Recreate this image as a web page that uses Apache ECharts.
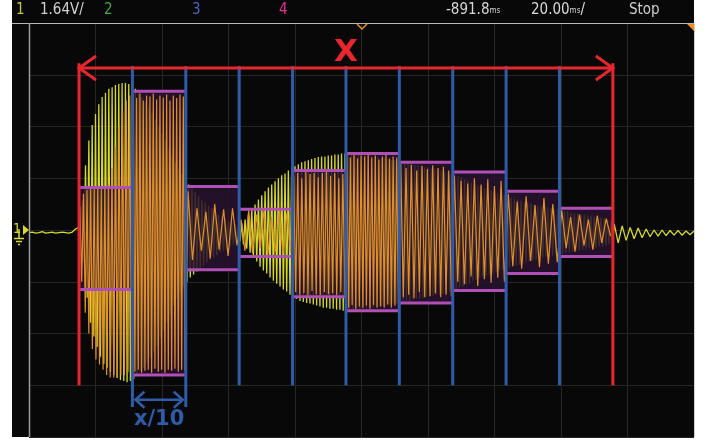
<!DOCTYPE html>
<html><head><meta charset="utf-8">
<script src="https://cdn.jsdelivr.net/npm/echarts@6/dist/echarts.min.js"></script>
<style>html,body{margin:0;padding:0;background:#fff;}#c{width:713px;height:440px;}</style>
</head><body><div id="c"></div>
<script>
// ---------- data (time in ms, 20 ms/div; amplitude in divisions, 1.64 V/div) ----------
const timeRange = [0, 200];
const ampRange = [-4, 4];
const headerTexts = ['1', '1.64V/', '2', '3', '4', '-891.8', '20.00', 'Stop'];

// pre-trigger flat trace, 1 ms step from t = 0
const preValues = [-0.05,-0.04,-0.06,-0.05,-0.03,-0.06,-0.05,-0.04,-0.06,-0.05,-0.04,-0.05,-0.06,-0.04,0.02];
// burst: peak (high) and trough (low) per 1 ms from t = 15
const yellowHigh = [0.05,0.57,1.25,1.73,2.03,2.24,2.43,2.57,2.65,2.73,2.76,2.80,2.82,2.84,2.84,2.82,2.78,2.73,2.65,2.57,
 2.49,2.37,2.26,2.14,2.01,1.87,1.73,1.58,1.44,1.31,1.19,1.08,0.98,0.88,0.80,0.73,0.65,0.59,0.53,0.47,
 0.42,0.36,0.30,0.26,0.22,0.18,0.15,0.11,0.09,0.13,0.20,0.30,0.40,0.49,0.59,0.67,0.75,0.82,0.88,0.94,
 1.00,1.06,1.09,1.15,1.19,1.23,1.27,1.31,1.33,1.35,1.37,1.39,1.41,1.42,1.42,1.44,1.44,1.46,1.46,1.48,
 1.48,1.48,1.48,1.46,1.46,1.44,1.44,1.42,1.42,1.41,1.41,1.39,1.39,1.37,1.35,1.35,1.33,1.31,1.29,1.29,
 1.27,1.25,1.25,1.23,1.21,1.21,1.19,1.17,1.17,1.15,1.13,1.11,1.09,1.08,1.04,1.02,0.98,0.96,0.92,0.90,
 0.86,0.84,0.80,0.78,0.77,0.75,0.71,0.69,0.67,0.65,0.63,0.61,0.59,0.57,0.55,0.53,0.51,0.49,0.47,0.46,
 0.44,0.44,0.42,0.40,0.40,0.38,0.36,0.36,0.34,0.32,0.32,0.30,0.30,0.28,0.28,0.26,0.24,0.24,0.22,0.20,0.18];
const yellowLow = [-0.05,-0.63,-1.31,-1.79,-2.06,-2.26,-2.45,-2.59,-2.66,-2.74,-2.80,-2.86,-2.90,-2.92,-2.94,-2.92,-2.88,-2.82,-2.74,-2.66,
 -2.57,-2.47,-2.35,-2.24,-2.08,-1.95,-1.79,-1.62,-1.46,-1.33,-1.19,-1.09,-1.00,-0.92,-0.86,-0.80,-0.75,-0.69,-0.63,-0.57,
 -0.53,-0.49,-0.44,-0.40,-0.36,-0.32,-0.28,-0.24,-0.22,-0.28,-0.36,-0.44,-0.51,-0.61,-0.71,-0.78,-0.84,-0.92,-0.98,-1.04,
 -1.09,-1.15,-1.19,-1.25,-1.29,-1.33,-1.37,-1.39,-1.41,-1.42,-1.44,-1.46,-1.48,-1.50,-1.50,-1.52,-1.52,-1.54,-1.54,-1.56,
 -1.56,-1.56,-1.56,-1.54,-1.54,-1.52,-1.52,-1.50,-1.50,-1.48,-1.48,-1.46,-1.46,-1.44,-1.42,-1.42,-1.41,-1.39,-1.37,-1.37,
 -1.35,-1.33,-1.33,-1.31,-1.29,-1.29,-1.27,-1.25,-1.25,-1.23,-1.21,-1.19,-1.17,-1.15,-1.11,-1.09,-1.06,-1.04,-0.98,-0.96,
 -0.92,-0.90,-0.88,-0.86,-0.84,-0.82,-0.78,-0.77,-0.75,-0.73,-0.71,-0.69,-0.67,-0.65,-0.63,-0.61,-0.59,-0.57,-0.55,-0.53,
 -0.51,-0.51,-0.49,-0.47,-0.47,-0.46,-0.44,-0.44,-0.42,-0.40,-0.40,-0.38,-0.38,-0.36,-0.36,-0.34,-0.32,-0.32,-0.30,-0.28,-0.26];
// ringing after the burst, 1.2 ms step from t = 176
const ringValues = [0.12,-0.25,0.08,-0.20,0.05,-0.17,0.04,-0.15,0.02,-0.13,0.0,-0.12,0.0,-0.11,-0.01,-0.10,-0.01,-0.10,-0.02,-0.09,-0.02];

// marked interval X (ms) split into 10 windows of X/10
const markStart = 15.05, markEnd = 175.6;
const segTop    = [0.82, 2.68, 0.84, 0.40, 1.15, 1.48, 1.31, 1.12, 0.75, 0.42];
const segBottom = [-1.15,-2.80,-0.77,-0.51,-1.29,-1.56,-1.41,-1.17,-0.84,-0.51];
const segShaded = [1,1,1,0,1,1,1,1,1,1];

// highlighted (orange) trace: alternating peaks per window
const orange1  = [0.45,-1.0,0.7,-1.6,0.78,-2.0,0.8,-2.3,0.8,-2.5,0.82,-2.6,0.8,-2.7,0.85,-2.8,0.9,-2.85,1.2,-2.85,1.6,-2.85,2.0,-2.8,2.3,-2.8,2.5,-2.75,2.6,-2.7];
const orange2  = [2.62,-2.74,2.55,-2.7,2.64,-2.76,2.5,-2.72,2.6,-2.7,2.58,-2.76,2.64,-2.68,2.52,-2.74,2.6,-2.7,2.56,-2.76,2.62,-2.7,2.5,-2.72,2.6,-2.68,2.55,-2.74,2.62,-2.7,2.58,-2.72];
const orange3  = [0.75,-0.58,0.42,-0.4,0.35,-0.55,0.5,-0.38,0.4,-0.5,0.42,-0.3];
const orange4  = [0.2,-0.4,0.38,-0.45,0.3,-0.35,0.38,-0.48,0.25,-0.42,0.38,-0.46,0.32,-0.44];
const orange5  = [1.05,-1.2,1.1,-1.25,1.0,-1.22,1.12,-1.26,1.08,-1.18,1.1,-1.24,1.02,-1.26,1.1,-1.2,1.12,-1.24,1.05,-1.22,1.1,-1.26,1.0,-1.2,1.08,-1.25];
const orange6  = [1.45,-1.5,1.4,-1.45,1.46,-1.52,1.38,-1.48,1.44,-1.5,1.42,-1.46,1.46,-1.52,1.4,-1.45,1.44,-1.5,1.36,-1.48,1.42,-1.5,1.45,-1.44,1.38,-1.5,1.42,-1.46,1.4,-1.48];
const orange7  = [1.28,-1.3,1.2,-1.25,1.26,-1.32,1.15,-1.2,1.24,-1.3,1.18,-1.28,1.25,-1.22,1.2,-1.3,1.22,-1.25,1.15,-1.28];
const orange8  = [1.05,-1.0,0.95,-1.05,0.9,-0.9,1.0,-1.08,0.88,-0.95,0.98,-1.02,0.85,-0.92,0.95,-1.0];
const orange9  = [0.7,-0.7,0.55,-0.75,0.65,-0.6,0.48,-0.72,0.62,-0.65,0.5,-0.62];
const orange10 = [0.38,-0.35,0.25,-0.42,0.3,-0.3,0.2,-0.38,0.28,-0.25,0.22,-0.12];
const orangeSegments = [orange1,orange2,orange3,orange4,orange5,orange6,orange7,orange8,orange9,orange10];

// ---------- build series data ----------
const segW = (markEnd - markStart) / segTop.length;
const yellow = [];
preValues.forEach((v, i) => yellow.push([i * 1, v]));
yellowHigh.forEach((h, i) => { const t = 15 + i; yellow.push([t, h]); yellow.push([t + 0.5, yellowLow[i]]); });
ringValues.forEach((v, i) => yellow.push([176 + i * 1.2, v]));

const orange = [];
orangeSegments.forEach((arr, k) => {
  const t0 = markStart + k * segW;
  arr.forEach((v, i) => orange.push([t0 + (i + 0.5) * segW / arr.length, v]));
});

const RED = '#e8262e', BLUE = '#2f5ca8', MAG = '#b04fb4';

function boxFill(params, api) {
  const i = api.value(0);
  if (!segShaded[i]) return null;
  const t0 = markStart + i * segW, t1 = t0 + segW;
  const a = api.coord([t0, api.value(1)]), b = api.coord([t1, api.value(2)]);
  return {type: 'rect', shape: {x: a[0], y: a[1], width: b[0] - a[0], height: b[1] - a[1]},
          style: {fill: 'rgba(40,18,46,0.86)'}};
}
function boxEdges(params, api) {
  const i = api.value(0);
  const t0 = markStart + i * segW, t1 = t0 + segW;
  const a = api.coord([t0, api.value(1)]), b = api.coord([t1, api.value(2)]);
  const st = {stroke: MAG, lineWidth: 3};
  return {type: 'group', children: [
    {type: 'line', shape: {x1: a[0], y1: a[1], x2: b[0], y2: a[1]}, style: st},
    {type: 'line', shape: {x1: a[0], y1: b[1], x2: b[0], y2: b[1]}, style: st}
  ]};
}
function blueLines(params, api) {
  const k = api.value(0);
  const t = markStart + k * segW;
  const top = api.coord([t, 3.17]);
  const bot = api.coord([t, (k === 1 || k === 2) ? -3.42 : -3.0]);
  return {type: 'line', shape: {x1: top[0], y1: top[1], x2: bot[0], y2: bot[1]}, style: {stroke: BLUE, lineWidth: 3}};
}
function chevron(tip, dir, len, half, stroke, lw) {
  return {type: 'polyline', shape: {points: [[tip[0] + dir * len, tip[1] - half], tip, [tip[0] + dir * len, tip[1] + half]]},
          style: {stroke: stroke, lineWidth: lw, fill: null}};
}
function annotations(params, api) {
  const sT = api.coord([markStart, 3.22]), sB = api.coord([markStart, -3.0]);
  const eT = api.coord([markEnd, 3.22]), eB = api.coord([markEnd, -3.0]);
  const hL = api.coord([markStart, 3.13]), hR = api.coord([markEnd, 3.13]);
  const xLab = api.coord([(markStart + markEnd) / 2, 3.42]);
  const b1 = api.coord([markStart + segW, -3.28]), b2 = api.coord([markStart + 2 * segW, -3.28]);
  const tenLab = api.coord([markStart + 1.5 * segW, -3.67]);
  const redSt = {stroke: RED, lineWidth: 3};
  const bl = [b1[0] + 3, b1[1]], br = [b2[0] - 3, b2[1]];
  return {type: 'group', children: [
    {type: 'line', shape: {x1: sT[0], y1: sT[1], x2: sB[0], y2: sB[1]}, style: redSt},
    {type: 'line', shape: {x1: eT[0], y1: eT[1], x2: eB[0], y2: eB[1]}, style: redSt},
    {type: 'line', shape: {x1: hL[0], y1: hL[1], x2: hR[0], y2: hR[1]}, style: redSt},
    chevron(hL, 1, 17, 12, RED, 3),
    chevron(hR, -1, 17, 12, RED, 3),
    {type: 'text', x: xLab[0], y: xLab[1], style: {text: 'X', fill: RED, font: 'bold 31px "DejaVu Sans", sans-serif', align: 'center', verticalAlign: 'middle'}},
    {type: 'line', shape: {x1: bl[0], y1: bl[1], x2: br[0], y2: br[1]}, style: {stroke: BLUE, lineWidth: 2.5}},
    chevron(bl, 1, 9, 8, BLUE, 2.5),
    chevron(br, -1, 9, 8, BLUE, 2.5),
    {type: 'text', x: tenLab[0], y: tenLab[1], style: {text: 'x/10', fill: BLUE, font: 'bold 21px "DejaVu Sans", sans-serif', align: 'center', verticalAlign: 'middle'}}
  ]};
}

const hdrFont = '"Liberation Sans Narrow", "DejaVu Sans Condensed", sans-serif';
function hdr(x, text, color, extra) {
  return Object.assign({type: 'text', left: x, top: 3, z: 10, style: {text: text, fill: color, font: '15px ' + hdrFont}}, extra || {});
}

const chart = echarts.init(document.getElementById('c'));
chart.setOption({
  backgroundColor: '#ffffff',
  animation: false,
  grid: {left: 29, top: 23, width: 665, height: 414},
  xAxis: {type: 'value', min: timeRange[0], max: timeRange[1], interval: 20,
    axisLine: {show: false}, axisTick: {show: false}, axisLabel: {show: false},
    splitLine: {show: true, lineStyle: {color: '#262626', width: 1}}},
  yAxis: {type: 'value', min: ampRange[0], max: ampRange[1], interval: 1,
    axisLine: {show: false}, axisTick: {show: false}, axisLabel: {show: false},
    splitLine: {show: true, lineStyle: {color: '#262626', width: 1}}},
  graphic: [
    {type: 'rect', z: -100, shape: {x: 12, y: 0, width: 682, height: 437}, style: {fill: '#080808'}},
    {type: 'line', z: 10, shape: {x1: 12, y1: 23.5, x2: 694, y2: 23.5}, style: {stroke: '#b8b8b8', lineWidth: 1}},
    {type: 'line', z: 10, shape: {x1: 29.5, y1: 23, x2: 29.5, y2: 437}, style: {stroke: '#9c9c9c', lineWidth: 1.5}},
    {type: 'line', z: 10, shape: {x1: 694.5, y1: 23, x2: 694.5, y2: 437}, style: {stroke: '#d0d0d0', lineWidth: 1}},
    hdr(16, headerTexts[0], '#c8c830'),
    hdr(40, headerTexts[1], '#d0d0d0'),
    hdr(104, headerTexts[2], '#4aa848'),
    hdr(192, headerTexts[3], '#4a66c8'),
    hdr(279, headerTexts[4], '#e0309a'),
    {type: 'text', left: 446, top: 3, z: 10, style: {text: '{a|' + headerTexts[5] + '}{b|ms}', rich: {
      a: {fill: '#d8d8d8', font: '15px ' + hdrFont}, b: {fill: '#d8d8d8', font: '8px ' + hdrFont}}}},
    {type: 'text', left: 531, top: 3, z: 10, style: {text: '{a|' + headerTexts[6] + '}{b|ms}{a|/}', rich: {
      a: {fill: '#d8d8d8', font: '15px ' + hdrFont}, b: {fill: '#d8d8d8', font: '8px ' + hdrFont}}}},
    hdr(629, headerTexts[7], '#d0d0d0'),
    {type: 'polyline', z: 10, shape: {points: [[357, 24], [362, 29], [367, 24]]}, style: {stroke: '#f08a20', lineWidth: 1.5, fill: null}},
    {type: 'polygon', z: 10, shape: {points: [[687, 24], [694, 24], [694, 31]]}, style: {fill: '#f08a20'}},
    {type: 'text', left: 13, top: 222, z: 10, style: {text: '1', fill: '#d8d830', font: '14px ' + hdrFont}},
    {type: 'polygon', z: 10, shape: {points: [[23, 225], [29, 230], [23, 235]]}, style: {fill: '#d8d830'}},
    {type: 'polyline', z: 10, shape: {points: [[19, 229], [19, 238]]}, style: {stroke: '#d8d830', lineWidth: 1.5}},
    {type: 'line', z: 10, shape: {x1: 14, y1: 238.5, x2: 24, y2: 238.5}, style: {stroke: '#d8d830', lineWidth: 1.5}},
    {type: 'line', z: 10, shape: {x1: 16, y1: 241.5, x2: 22, y2: 241.5}, style: {stroke: '#d8d830', lineWidth: 1.5}},
    {type: 'line', z: 10, shape: {x1: 18, y1: 244.5, x2: 20, y2: 244.5}, style: {stroke: '#d8d830', lineWidth: 1.5}}
  ],
  series: [
    {type: 'line', z: 2, data: yellow, showSymbol: false, silent: true,
     lineStyle: {color: '#d6d82a', width: 1.3}},
    {type: 'custom', z: 3, renderItem: boxFill, silent: true,
     data: segTop.map((t, i) => [i, t, segBottom[i]])},
    {type: 'line', z: 4, data: orange, showSymbol: false, silent: true,
     lineStyle: {color: '#e08e28', width: 1.2}},
    {type: 'custom', z: 5, renderItem: boxEdges, silent: true,
     data: segTop.map((t, i) => [i, t, segBottom[i]])},
    {type: 'custom', z: 6, renderItem: blueLines, silent: true,
     data: [1, 2, 3, 4, 5, 6, 7, 8, 9].map(k => [k])},
    {type: 'custom', z: 7, renderItem: annotations, silent: true, clip: false, data: [[0]]}
  ]
});
</script></body></html>
